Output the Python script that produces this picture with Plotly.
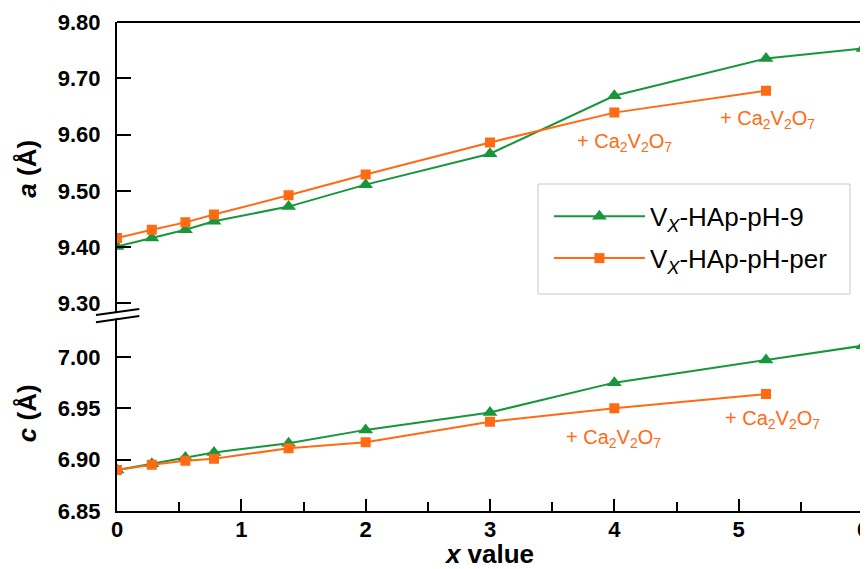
import plotly.graph_objects as go

# ---- data ----
x_vals = [0, 0.28, 0.55, 0.78, 1.38, 2, 3, 4, 5.22, 6]
x_per = [0, 0.28, 0.55, 0.78, 1.38, 2, 3, 4, 5.22]

a_ph9 = [9.401, 9.416, 9.431, 9.446, 9.472, 9.511, 9.566, 9.669, 9.735, 9.753]
a_per = [9.416, 9.431, 9.444, 9.458, 9.492, 9.529, 9.586, 9.639, 9.678]

c_ph9 = [6.890, 6.896, 6.902, 6.907, 6.916, 6.929, 6.946, 6.975, 6.997, 7.011]
c_per = [6.890, 6.895, 6.899, 6.901, 6.911, 6.917, 6.937, 6.950, 6.964]

names = ["V<sub><i>X</i></sub>-HAp-pH-9", "V<sub><i>X</i></sub>-HAp-pH-per"]
note_text = "+ Ca<sub>2</sub>V<sub>2</sub>O<sub>7</sub>"
note_x_a = [4.08, 5.23]
note_y_a = [9.586, 9.627]
note_x_c = [3.99, 5.27]
note_y_c = [6.921, 6.939]

a_ticks = [9.30, 9.40, 9.50, 9.60, 9.70, 9.80]
c_ticks = [6.85, 6.90, 6.95, 7.00]
x_ticks = [0, 1, 2, 3, 4, 5, 6]

GREEN = "#17963c"
ORANGE = "#ff6a12"
FONT = "Arial, Liberation Sans, sans-serif"

fig = go.Figure()

# upper panel (a)
fig.add_trace(go.Scatter(x=x_vals, y=a_ph9, xaxis="x", yaxis="y2", mode="lines+markers",
                         name=names[0], legendgroup="g1",
                         line=dict(color=GREEN, width=2),
                         marker=dict(symbol="triangle-up", size=13, color=GREEN)))
fig.add_trace(go.Scatter(x=x_per, y=a_per, xaxis="x", yaxis="y2", mode="lines+markers",
                         name=names[1], legendgroup="g2",
                         line=dict(color=ORANGE, width=2),
                         marker=dict(symbol="square", size=10, color=ORANGE)))
# lower panel (c)
fig.add_trace(go.Scatter(x=x_vals, y=c_ph9, xaxis="x", yaxis="y", mode="lines+markers",
                         showlegend=False, legendgroup="g1",
                         line=dict(color=GREEN, width=2),
                         marker=dict(symbol="triangle-up", size=13, color=GREEN)))
fig.add_trace(go.Scatter(x=x_per, y=c_per, xaxis="x", yaxis="y", mode="lines+markers",
                         showlegend=False, legendgroup="g2",
                         line=dict(color=ORANGE, width=2),
                         marker=dict(symbol="square", size=10, color=ORANGE)))

split = 0.3998
TICKFONT = dict(family=FONT, size=22, weight="bold", color="black")
TITLEFONT = dict(family=FONT, size=26, color="black")

# the page body adds an 8px offset, so the figure is 860x561 inside a 868x569 window
fig.update_layout(
    width=860, height=561,
    margin=dict(l=109, r=5, t=14, b=58, autoexpand=False),
    plot_bgcolor="white", paper_bgcolor="white",
    font=dict(family=FONT, color="black"),
    xaxis=dict(domain=[0, 1], range=[0, 6], anchor="y", automargin=False,
               tickvals=x_ticks, ticks="inside", ticklen=12, tickwidth=2, tickcolor="black",
               minor=dict(dtick=0.5, tick0=0, ticks="inside", ticklen=9, tickwidth=2, tickcolor="black"),
               showline=True, linewidth=2, linecolor="black", showgrid=False, zeroline=False,
               tickfont=TICKFONT, ticklabelstandoff=-2, ticklabeloverflow="allow",
               title=dict(text="<b><i>x</i> value</b>", font=TITLEFONT, standoff=12)),
    yaxis=dict(domain=[0, split], range=[6.85, 7.0404], anchor="x", automargin=False,
               tickvals=c_ticks, tickformat=".2f", ticks="inside", ticklen=14, tickwidth=2,
               tickcolor="black", showline=True, linewidth=2, linecolor="black",
               showgrid=False, zeroline=False,
               tickfont=TICKFONT, ticklabelstandoff=10, ticklabeloverflow="allow",
               title=dict(text="<b><i>c</i> (Å)</b>", font=TITLEFONT, standoff=14)),
    yaxis2=dict(domain=[split, 1], range=[9.2785, 9.80], anchor="x", automargin=False,
                tickvals=a_ticks, tickformat=".2f", ticks="inside", ticklen=14, tickwidth=2,
                tickcolor="black", showline=True, linewidth=2, linecolor="black",
                showgrid=False, zeroline=False,
                tickfont=TICKFONT, ticklabelstandoff=10, ticklabeloverflow="allow",
                title=dict(text="<b><i>a</i> (Å)</b>", font=TITLEFONT, standoff=14)),
    legend=dict(x=0.579, y=0.5595, xanchor="left", yanchor="middle",
                borderwidth=0, bgcolor="rgba(0,0,0,0)",
                font=dict(family=FONT, size=26, color="black"),
                itemwidth=91, tracegroupgap=5, traceorder="grouped"),
    showlegend=True,
)

# legend frame
fig.add_shape(type="rect", xref="paper", yref="paper",
              x0=(538 - 117) / 746, x1=(850 - 117) / 746,
              y0=(511 - 294) / 489, y1=(511 - 184) / 489,
              line=dict(color="#c8c8c8", width=1), fillcolor="white", layer="below")

# frame: top and right
fig.add_shape(type="line", xref="paper", yref="paper", x0=0, x1=1, y0=1, y1=1,
              line=dict(color="black", width=2))
fig.add_shape(type="line", xref="paper", yref="paper", x0=1, x1=1, y0=0, y1=1,
              line=dict(color="black", width=2))

# axis break: white gap + two slanted lines
fig.add_shape(type="path", xref="paper", yref="paper", layer="above",
              path="M -0.012,0.4036 L 0.012,0.4081 L 0.012,0.3962 L -0.012,0.3917 Z",
              fillcolor="white", line=dict(width=0))
fig.add_shape(type="line", xref="paper", yref="paper", layer="above",
              x0=-0.0282, y0=0.4008, x1=0.0299, y1=0.4131, line=dict(color="black", width=2))
fig.add_shape(type="line", xref="paper", yref="paper", layer="above",
              x0=-0.0282, y0=0.3859, x1=0.0299, y1=0.3988, line=dict(color="black", width=2))

for xx, yy in zip(note_x_a, note_y_a):
    fig.add_annotation(x=xx, y=yy, xref="x", yref="y2", text=note_text, showarrow=False,
                       font=dict(family=FONT, size=20, color=ORANGE))
for xx, yy in zip(note_x_c, note_y_c):
    fig.add_annotation(x=xx, y=yy, xref="x", yref="y", text=note_text, showarrow=False,
                       font=dict(family=FONT, size=20, color=ORANGE))

fig.write_html("out.html")
